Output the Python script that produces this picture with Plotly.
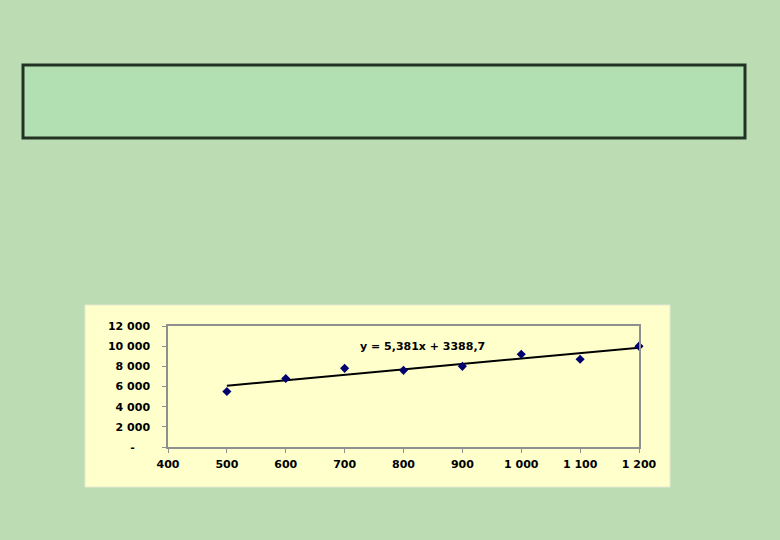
import plotly.graph_objects as go

# Data
x_vals = [500, 600, 700, 800, 900, 1000, 1100, 1200]
y_vals = [5500, 6800, 7800, 7600, 8000, 9200, 8700, 10000]
slope = 5.381
intercept = 3388.7
trend_x = [500, 1200]
trend_y = [slope * v + intercept for v in trend_x]

x_ticks = [400, 500, 600, 700, 800, 900, 1000, 1100, 1200]
x_tick_text = ["400", "500", "600", "700", "800", "900", "1 000", "1 100", "1 200"]
y_ticks = [0, 2000, 4000, 6000, 8000, 10000, 12000]
y_tick_text = ["-\u00a0\u00a0\u00a0\u00a0", "2 000", "4 000", "6 000", "8 000", "10 000", "12 000"]
equation = "y = 5,381x + 3388,7"

W, H = 780, 540
FONT = "DejaVu Sans, Verdana, sans-serif"

def px(v):
    return v / W

def py(v):
    return 1 - v / H

fig = go.Figure()
fig.add_trace(go.Scatter(
    x=trend_x, y=trend_y, mode="lines",
    line=dict(color="black", width=2), showlegend=False, hoverinfo="skip"))
fig.add_trace(go.Scatter(
    x=x_vals, y=y_vals, mode="markers",
    marker=dict(symbol="diamond", size=7, color="#00006e"),
    showlegend=False, cliponaxis=False))

fig.add_annotation(x=833, y=10000, xref="x", yref="y", text=equation,
                   showarrow=False,
                   font=dict(family=FONT, size=11, color="black", weight="bold"))

shapes = [
    dict(type="rect", xref="paper", yref="paper", x0=px(23), x1=px(745), y0=py(138), y1=py(65),
         fillcolor="#b3e0b3", line=dict(color="#233323", width=3), layer="below"),
    dict(type="rect", xref="paper", yref="paper", x0=px(85), x1=px(670), y0=py(487), y1=py(305),
         fillcolor="#ffffcc", line=dict(color="#e8e8d0", width=1), layer="below"),
]
fig.update_layout(
    width=W, height=H,
    margin=dict(l=0, r=0, t=0, b=0, pad=0, autoexpand=False),
    paper_bgcolor="#bcdcb4",
    plot_bgcolor="rgba(0,0,0,0)",
    shapes=shapes,
    font=dict(family=FONT, size=11, color="black"),
    xaxis=dict(domain=[px(168), px(639)], range=[400, 1200], tickvals=x_ticks, ticktext=x_tick_text,
               showgrid=False, zeroline=False, showline=True, linecolor="#8f8f8f", linewidth=1.5,
               mirror=True, ticks="outside", ticklen=4, tickcolor="#8f8f8f", automargin=False,
               ticklabelstandoff=2,
               tickfont=dict(family=FONT, size=11, weight="bold"), anchor="y"),
    yaxis=dict(domain=[py(447), py(326)], range=[0, 12000], tickvals=y_ticks, ticktext=y_tick_text,
               showgrid=False, zeroline=False, showline=True, linecolor="#8f8f8f", linewidth=1.5,
               mirror=True, ticks="outside", ticklen=4, tickcolor="#8f8f8f", automargin=False,
               ticklabelstandoff=10,
               tickfont=dict(family=FONT, size=11, weight="bold"), anchor="x"),
)

fig.write_html("out.html", config={"displayModeBar": False},
               post_script="document.body.style.margin='0';document.body.style.overflow='hidden';")
